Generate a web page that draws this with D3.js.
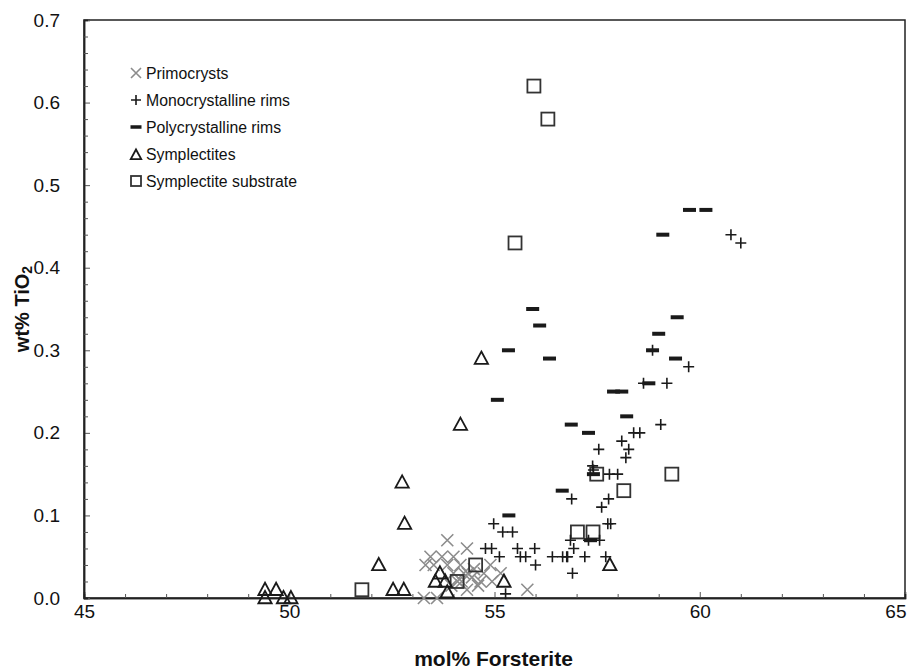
<!DOCTYPE html>
<html><head><meta charset="utf-8">
<script src="https://cdn.jsdelivr.net/npm/d3@7"></script>
<style>body{margin:0;background:#fff}svg{display:block}</style>
</head><body>
<svg id="c" width="908" height="671"></svg>
<script>
const xTicks = [45, 50, 55, 60, 65];
const yTicks = [0.0, 0.1, 0.2, 0.3, 0.4, 0.5, 0.6, 0.7];
const seriesNames = ["Primocrysts", "Monocrystalline rims", "Polycrystalline rims", "Symplectites", "Symplectite substrate"];

const primocrysts = [[53.85,0.07],[54.33,0.06],[53.44,0.05],[53.72,0.05],[54.0,0.05],[53.32,0.04],[53.52,0.04],[53.85,0.04],[54.17,0.04],[54.25,0.03],[54.74,0.03],[54.9,0.04],[54.66,0.02],[54.94,0.02],[55.15,0.03],[55.8,0.01],[54.33,0.01],[53.28,0.0],[53.6,0.0],[54.0,0.03],[54.1,0.02],[54.45,0.025],[54.5,0.035],[54.6,0.015],[53.95,0.015],[54.2,0.02],[54.35,0.03]];
const monoRims = [[60.76,0.44],[61.0,0.43],[59.73,0.28],[59.2,0.26],[58.63,0.26],[58.85,0.30],[59.05,0.21],[58.39,0.20],[58.54,0.20],[58.1,0.19],[57.54,0.18],[58.27,0.18],[58.2,0.17],[57.39,0.16],[57.41,0.155],[57.8,0.15],[58.0,0.15],[56.88,0.12],[57.78,0.12],[57.61,0.11],[57.76,0.09],[57.83,0.09],[56.85,0.07],[57.29,0.07],[57.56,0.07],[56.93,0.06],[56.76,0.05],[57.2,0.05],[57.71,0.05],[56.9,0.03],[54.98,0.09],[55.2,0.08],[55.44,0.08],[54.78,0.06],[54.93,0.06],[55.12,0.05],[55.56,0.06],[55.63,0.05],[55.76,0.05],[55.98,0.06],[56.0,0.04],[56.41,0.05],[56.66,0.05],[56.78,0.05],[55.27,0.005]];
const polyRims = [[59.75,0.47],[60.15,0.47],[59.1,0.44],[55.93,0.35],[56.1,0.33],[55.34,0.30],[56.34,0.29],[59.45,0.34],[59.0,0.32],[58.85,0.30],[59.41,0.29],[55.07,0.24],[58.76,0.26],[57.9,0.25],[58.1,0.25],[58.22,0.22],[56.87,0.21],[57.29,0.20],[57.41,0.15],[56.65,0.13],[55.35,0.10],[57.34,0.07]];
const symplectites = [[52.75,0.14],[52.81,0.09],[52.18,0.04],[52.53,0.01],[52.79,0.01],[49.41,0.01],[49.68,0.01],[49.41,0.0],[49.86,0.0],[50.04,0.0],[53.67,0.03],[53.56,0.02],[53.8,0.02],[53.85,0.007],[54.17,0.21],[54.68,0.29],[55.23,0.02],[57.81,0.04]];
const substrate = [[55.96,0.62],[56.3,0.58],[55.5,0.43],[59.32,0.15],[58.15,0.13],[57.49,0.15],[57.02,0.08],[57.4,0.08],[54.54,0.04],[54.09,0.02],[51.77,0.01]];

const svg = d3.select("#c");
const L = 84, R = 905, T = 20, B = 598;
const x = d3.scaleLinear().domain([45, 65]).range([L, R]);
const y = d3.scaleLinear().domain([0, 0.7]).range([B, T]);
const FONT = "'Liberation Sans', Arial, Helvetica, sans-serif";
const INK = "#1a1a1a", GRAY = "#8c8c8c";

// frame
svg.append("rect").attr("x", L).attr("y", T).attr("width", R - L).attr("height", B - T)
  .attr("fill", "none").attr("stroke", "#222").attr("stroke-width", 1.5);

// axes with inward ticks
const xMinor = d3.range(46, 65, 1).filter(v => v % 5 !== 0);
const yMinor = d3.range(0.02, 0.7, 0.02).filter(v => Math.abs(v * 10 - Math.round(v * 10)) > 1e-6);
const gx = svg.append("g").attr("transform", `translate(0,${B})`);
gx.call(d3.axisBottom(x).tickValues(xTicks).tickSize(-6).tickPadding(7).tickFormat(d3.format("d")));
gx.append("g").call(d3.axisBottom(x).tickValues(xMinor).tickSize(-4).tickFormat(""));
gx.selectAll(".tick text").filter(d => d === 65).attr("text-anchor", "end").attr("dx", 1);
const gy = svg.append("g").attr("transform", `translate(${L},0)`);
gy.call(d3.axisLeft(y).tickValues(yTicks).tickSize(-6).tickPadding(24).tickFormat(d3.format(".1f")));
gy.append("g").call(d3.axisLeft(y).tickValues(yMinor).tickSize(-4).tickFormat(""));
svg.selectAll(".domain").attr("stroke", "#222").attr("stroke-width", 1.5);
svg.selectAll(".tick line").attr("stroke", "#555").attr("stroke-width", 1);
svg.selectAll(".tick text").attr("font-family", FONT).attr("font-size", 19).attr("fill", "#111");

// axis titles
svg.append("text").attr("x", (L + R) / 2 - 1).attr("y", 666).attr("text-anchor", "middle")
  .attr("font-family", FONT).attr("font-weight", "bold").attr("font-size", 21).attr("fill", "#111")
  .text("mol% Forsterite");
const yt = svg.append("text").attr("transform", `translate(29,${(T + B) / 2}) rotate(-90)`)
  .attr("text-anchor", "middle").attr("font-family", FONT).attr("font-weight", "bold")
  .attr("font-size", 20).attr("fill", "#111");
yt.append("tspan").text("wt% TiO");
yt.append("tspan").attr("font-size", 14).attr("dy", 3).text("2");

// marker drawers
function drawX(g, cx, cy, s, col) {
  g.append("path").attr("d", `M${cx - s},${cy - s}L${cx + s},${cy + s}M${cx - s},${cy + s}L${cx + s},${cy - s}`)
    .attr("stroke", col).attr("stroke-width", 1.6).attr("fill", "none");
}
function drawPlus(g, cx, cy, s) {
  g.append("path").attr("d", `M${cx - s},${cy}L${cx + s},${cy}M${cx},${cy - s}L${cx},${cy + s}`)
    .attr("stroke", INK).attr("stroke-width", 1.6).attr("fill", "none");
}
function drawBar(g, cx, cy, w, h) {
  g.append("rect").attr("x", cx - w / 2).attr("y", cy - h / 2).attr("width", w).attr("height", h).attr("fill", INK);
}
function drawTri(g, cx, cy, s) {
  g.append("path").attr("d", `M${cx},${cy - s}L${cx + s * 0.95},${cy + s * 0.75}L${cx - s * 0.95},${cy + s * 0.75}Z`)
    .attr("stroke", INK).attr("stroke-width", 1.8).attr("fill", "none");
}
function drawSq(g, cx, cy, s) {
  g.append("rect").attr("x", cx - s).attr("y", cy - s).attr("width", 2 * s).attr("height", 2 * s)
    .attr("stroke", "#333").attr("stroke-width", 1.8).attr("fill", "none");
}

const pts = svg.append("g");
primocrysts.forEach(d => drawX(pts, x(d[0]), y(d[1]), 6, GRAY));
substrate.forEach(d => drawSq(pts, x(d[0]), y(d[1]), 6.5));
symplectites.forEach(d => drawTri(pts, x(d[0]), y(d[1]), 7));
monoRims.forEach(d => drawPlus(pts, x(d[0]), y(d[1]), 5.5));
polyRims.forEach(d => drawBar(pts, x(d[0]), y(d[1]), 13, 4));

// legend
const lg = svg.append("g");
const lx = 136, ly0 = 73, dy = 27;
seriesNames.forEach((name, i) => {
  const cy = ly0 + i * dy;
  if (i === 0) drawX(lg, lx, cy, 5, GRAY);
  if (i === 1) drawPlus(lg, lx, cy, 5);
  if (i === 2) drawBar(lg, lx, cy, 11, 3.5);
  if (i === 3) drawTri(lg, lx, cy + 1, 5.5);
  if (i === 4) drawSq(lg, lx, cy, 5);
  lg.append("text").attr("x", lx + 10).attr("y", cy + 6).attr("font-family", FONT).attr("font-size", 15.8)
    .attr("fill", "#111").text(name);
});
</script>
</body></html>
